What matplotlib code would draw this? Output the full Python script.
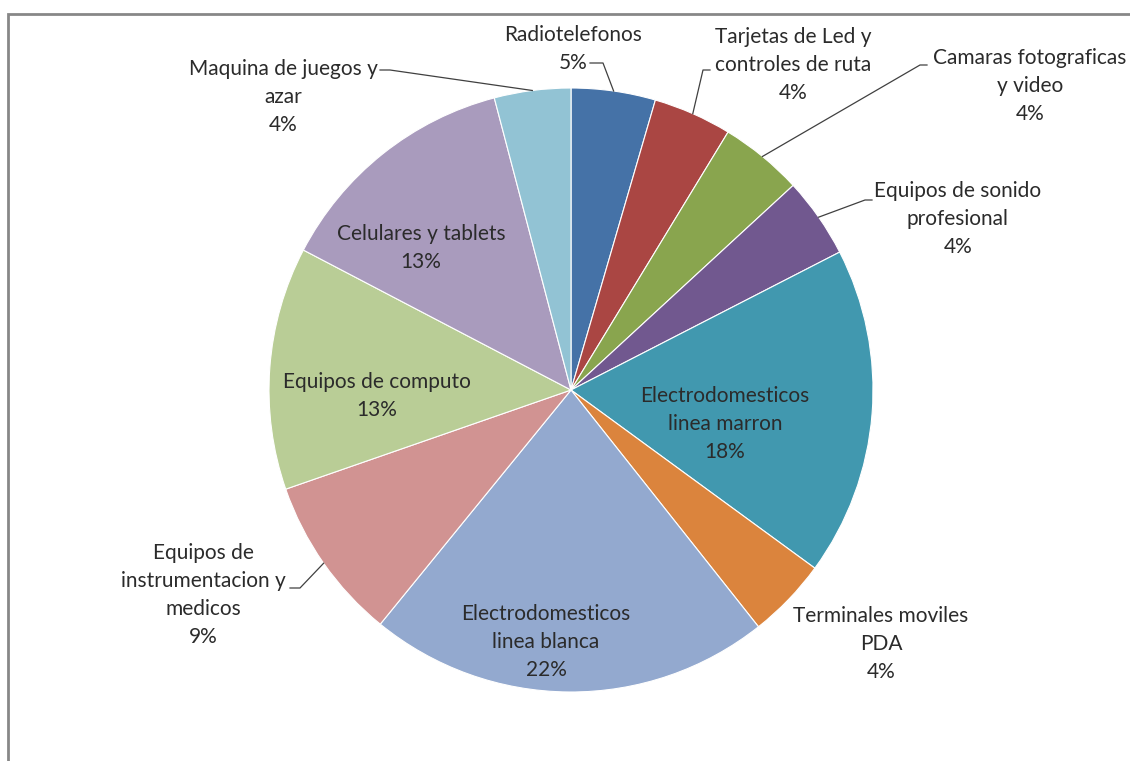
import numpy as np
import matplotlib
matplotlib.use("Agg")
import matplotlib.pyplot as plt
from matplotlib.patches import Rectangle

# Data (clockwise from 12 o'clock)
names = [
    "Radiotelefonos",
    "Tarjetas de Led y\ncontroles de ruta",
    "Camaras fotograficas\ny video",
    "Equipos de sonido\nprofesional",
    "Electrodomesticos\nlinea marron",
    "Terminales moviles\nPDA",
    "Electrodomesticos\nlinea blanca",
    "Equipos de\ninstrumentacion y\nmedicos",
    "Equipos de computo",
    "Celulares y tablets",
    "Maquina de juegos y\nazar",
]
values = [4.51, 4.2, 4.45, 4.3, 17.6, 4.3, 21.55, 8.8, 13.0, 13.25, 4.09]
colors = ['#4572A7', '#AA4643', '#89A54E', '#71588F', '#4198AF', '#DB843D',
          '#93A9CF', '#D19392', '#B9CD96', '#A99BBD', '#92C3D4']

W, H = 1130, 761
cx, cy, R = 571, 390, 302

plt.rcParams['font.family'] = ['Lato', 'DejaVu Sans']

fig = plt.figure(figsize=(W / 100, H / 100), dpi=100)
ax = fig.add_axes([0, 0, 1, 1])

def Y(y):
    return H - y

wedges, _ = ax.pie(values, colors=colors, startangle=90, counterclock=False,
                   center=(cx, Y(cy)), radius=R, frame=True,
                   wedgeprops=dict(edgecolor='white', linewidth=0.8))
ax.set_xlim(0, W)
ax.set_ylim(0, H)
ax.axis('off')

# chart border (only left and top visible)
ax.add_patch(Rectangle((8, -20), W + 50, Y(14) + 20, fill=False,
                       edgecolor='#878787', linewidth=2))

total = sum(values)
labels = [f"{n}\n{v / total * 100:.0f}%" for n, v in zip(names, values)]

# label centre, and leader line elbow (None = no leader)
text_pos = [(573, 49), (793, 65), (1030, 86), (958, 219), (725, 424),
            (881, 644), (546, 642), (203, 595), (377, 396), (421, 248),
            (283, 97)]
elbows = [((590, 63), (603, 63)), ((710, 70), (703, 70)),
          ((927, 65), (920, 65)), ((872, 200), (865, 200)), None, None,
          None, ((290, 588), (300, 588)), None, None,
          ((380, 70), (390, 70))]

for w, lab, (tx, ty), elb in zip(wedges, labels, text_pos, elbows):
    ax.text(tx, Y(ty), lab, ha='center', va='center', fontsize=15,
            color='#2b2b2b', linespacing=1.5)
    if elb is not None:
        mid = np.deg2rad((w.theta1 + w.theta2) / 2)
        px = cx + R * np.cos(mid)
        py = Y(cy) + R * np.sin(mid)
        (x0, y0), (x1, y1) = elb
        ax.plot([x0, x1, px], [Y(y0), Y(y1), py], color='#404040',
                linewidth=0.9)

fig.savefig("out.png", dpi=100, facecolor='white')
